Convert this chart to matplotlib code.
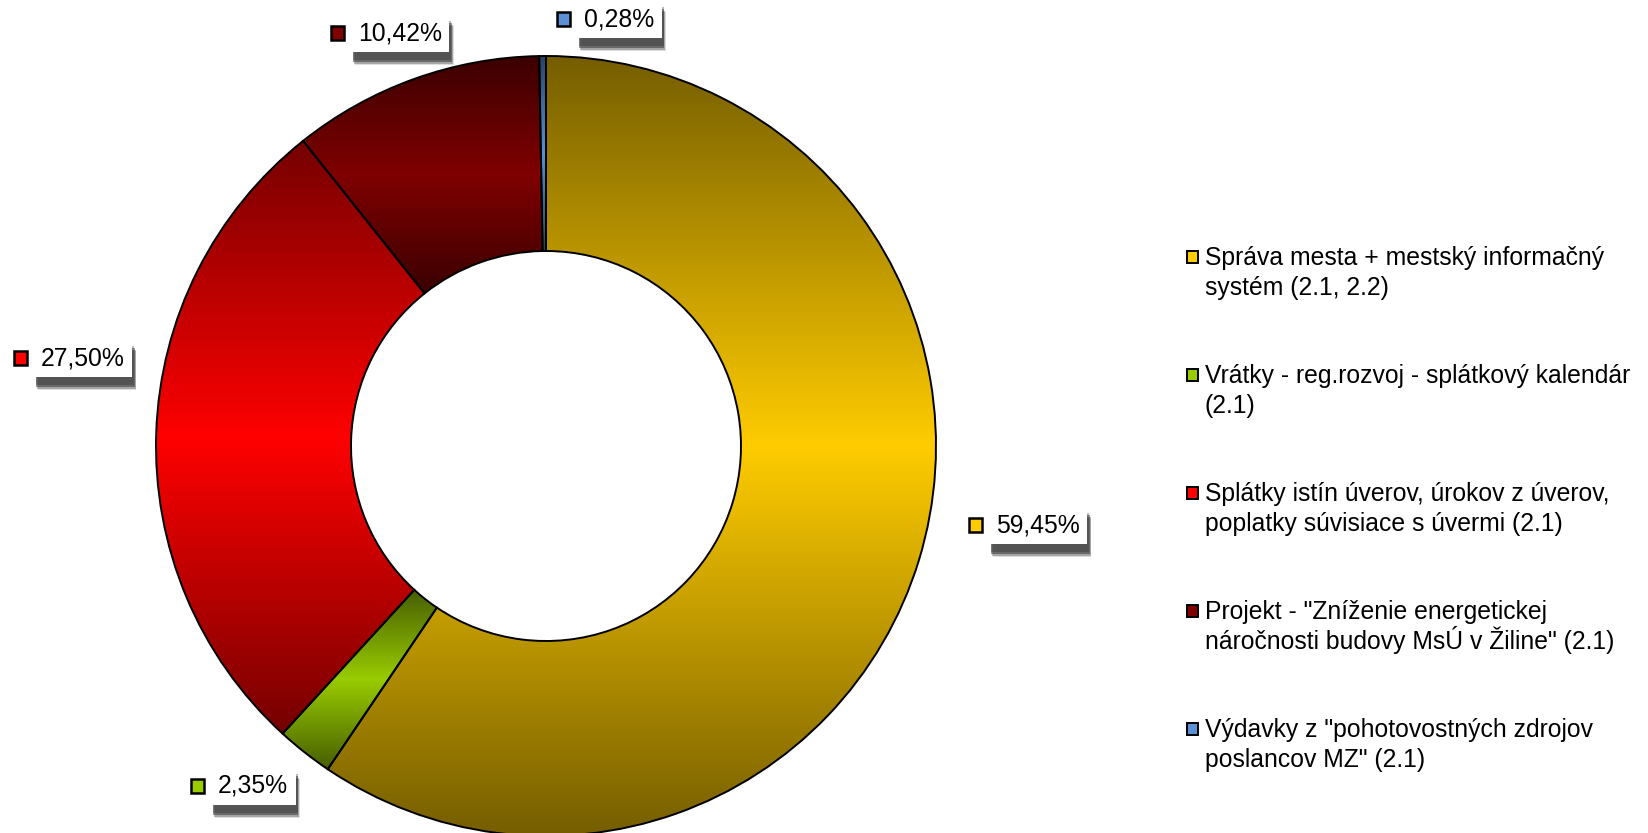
import numpy as np
import matplotlib.pyplot as plt
import matplotlib.patheffects as pe
from matplotlib.patches import Wedge, Rectangle
from matplotlib.colors import to_rgb

plt.rcParams['font.family'] = ['Liberation Sans', 'DejaVu Sans']

categories = [
    "Správa mesta + mestský informačný\nsystém (2.1, 2.2)",
    "Vrátky - reg.rozvoj - splátkový kalendár\n(2.1)",
    "Splátky istín úverov, úrokov z úverov,\npoplatky súvisiace s úvermi (2.1)",
    "Projekt - \"Zníženie energetickej\nnáročnosti budovy MsÚ v Žiline\" (2.1)",
    "Výdavky z \"pohotovostných zdrojov\nposlancov MZ\" (2.1)",
]
shares = [59.45, 2.35, 27.50, 10.42, 0.28]
colors = ["#FFCC00", "#99CC00", "#FF0000", "#800000", "#5B8FD6"]

# layout (pixels, y measured from top)
W, H = 1649, 833
CX, CY = 546, 446
R_OUT, R_IN = 390, 195
label_pos = [(976, 525), (198, 786), (21, 358), (338, 33), (564, 19)]
LEG_X, LEG_Y0, LEG_STEP, LEG_LINE = 1193, 257, 118, 29.5
FS = 17.8


def shade(rgb, n=256):
    t = np.linspace(0, 1, n)
    f = 1 - 0.54 * np.abs(2 * t - 1)
    return np.array(rgb)[None, None, :] * f[:, None, None]


def wedge_extent(t1, t2):
    # bounding box of the ring sector, from sampled arc points
    a = np.radians(np.linspace(t1, t2, 400))
    xs = np.concatenate([CX + R_OUT * np.cos(a), CX + R_IN * np.cos(a)])
    ys = np.concatenate([H - CY + R_OUT * np.sin(a), H - CY + R_IN * np.sin(a)])
    return xs.min(), xs.max(), ys.min(), ys.max()


def main():
    fig = plt.figure(figsize=(W / 100, H / 100), dpi=100)
    ax = fig.add_axes([0, 0, 1, 1])
    ax.set_xlim(0, W)
    ax.set_ylim(0, H)
    ax.set_aspect("equal")
    ax.axis("off")

    center = (CX, H - CY)
    start = 90.0
    for val, col in zip(shares, colors):
        end = start - 360.0 * val / 100.0
        w = Wedge(center, R_OUT, end, start, width=R_OUT - R_IN,
                  facecolor="none", edgecolor="none")
        ax.add_patch(w)
        im = ax.imshow(shade(to_rgb(col)), extent=wedge_extent(end, start),
                       origin="lower", aspect="auto", interpolation="bilinear",
                       zorder=1)
        im.set_clip_path(w)
        ax.add_patch(Wedge(center, R_OUT, end, start, width=R_OUT - R_IN,
                           facecolor="none", edgecolor="black", lw=1.4, zorder=2))
        start = end

    shadow = [
        pe.SimplePatchShadow(offset=(1.5, -5.5), shadow_rgbFace="#222222", alpha=0.3),
        pe.SimplePatchShadow(offset=(2.0, -7.0), shadow_rgbFace="#222222", alpha=0.45),
        pe.SimplePatchShadow(offset=(2.5, -8.0), shadow_rgbFace="#222222", alpha=0.3),
        pe.SimplePatchShadow(offset=(3.0, -9.0), shadow_rgbFace="#222222", alpha=0.15),
        pe.Normal(),
    ]
    for val, col, (mx, my) in zip(shares, colors, label_pos):
        ax.add_patch(Rectangle((mx - 6.5, H - my - 7), 13, 14, facecolor=col,
                               edgecolor="black", lw=1.8, zorder=5))
        txt = f"{val:.2f}%".replace(".", ",")
        t = ax.text(mx + 20, H - my, txt, fontsize=FS, ha="left", va="center",
                    color="black", zorder=4,
                    bbox=dict(boxstyle="square,pad=0.3", fc="white", ec="none"))
        t.get_bbox_patch().set_path_effects(shadow)

    for i, (lab, col) in enumerate(zip(categories, colors)):
        y0 = LEG_Y0 + i * LEG_STEP
        ax.add_patch(Rectangle((LEG_X - 5.5, H - y0 - 6), 11, 12, facecolor=col,
                               edgecolor="black", lw=1.4, zorder=5))
        for k, line in enumerate(lab.split("\n")):
            ax.text(LEG_X + 12, H - (y0 + 8 + k * LEG_LINE), line, fontsize=FS,
                    ha="left", va="baseline", color="black")

    fig.savefig("out.png", dpi=100)


if __name__ == "__main__":
    main()
